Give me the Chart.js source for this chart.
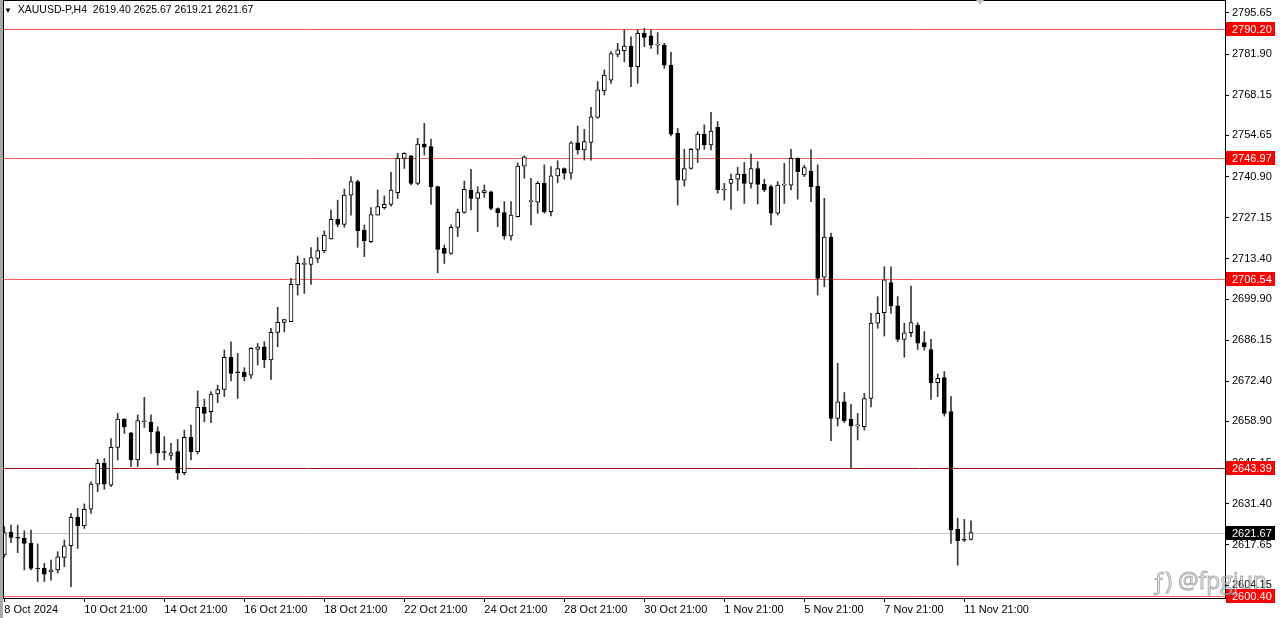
<!DOCTYPE html>
<html>
<head>
<meta charset="utf-8">
<script src="https://cdn.jsdelivr.net/npm/chart.js@4"></script>
<style>
    body { margin: 0; background: #fff; }
    #wrap { position: relative; width: 1280px; height: 618px; overflow: hidden; background: #fff; }
    #edge { position: absolute; left: 0; top: 0; width: 3px; height: 618px; background: #a8a8a8; }
    #title { position: absolute; left: 4px; top: 3px; font: 10.5px 'Liberation Sans', Arial, sans-serif; color: #000; white-space: pre; }
    #title span { font-size: 8px; }
    #shift { position: absolute; left: 976px; top: 0; width: 0; height: 0; border-left: 4px solid transparent; border-right: 4px solid transparent; border-top: 5px solid #c4c4c4; }
    #mark { position: absolute; left: 1152px; top: 564px; font: 23px 'Open Sans', sans-serif; color: rgba(235, 235, 235, 0.6); -webkit-text-stroke: 1px rgba(110, 110, 110, 0.55); white-space: pre; }
</style>
</head>
<body>
<div id="wrap">
    <canvas id="chart" width="1280" height="618"></canvas>
    <div id="edge"></div>
    <div id="title"><span>▼</span>  XAUUSD-P,H4  2619.40 2625.67 2619.21 2621.67</div>
    <div id="shift"></div>
    <div id="mark">ƒ) @fpgjun</div>
</div>
<script>
Chart.defaults.font.family = "'Liberation Sans', Arial, sans-serif"
Chart.defaults.font.size = 11
Chart.defaults.color = '#000'

// XAUUSD H4 candles, 8 Oct 21:00 -> 12 Nov 01:00
const opens = [
    2614.2, 2621.8, 2620.1, 2619.9, 2618.2, 2609.8, 2609.7, 2608.6, 2609.2, 2613.4,
    2617.3, 2626.8, 2623.9, 2629.5, 2637.9, 2644.9, 2637.6, 2650.2, 2659.7, 2655.1,
    2646.0, 2658.8, 2658.6, 2655.5, 2648.6, 2647.5, 2648.8, 2641.8, 2653.6, 2648.8,
    2663.6, 2662.2, 2668.1, 2669.6, 2680.4, 2675.3, 2675.4, 2674.4, 2683.0, 2683.9,
    2679.5, 2688.7, 2692.1, 2692.3, 2704.6, 2711.5, 2711.5, 2713.5, 2716.1, 2720.0,
    2726.6, 2724.9, 2734.7, 2739.2, 2723.0, 2719.1, 2728.0, 2730.5, 2731.6, 2735.5,
    2747.0, 2747.8, 2738.6, 2751.8, 2750.9, 2737.5, 2716.9, 2715.2, 2723.9, 2728.9,
    2736.4, 2733.6, 2735.5, 2735.8, 2730.2, 2728.8, 2721.0, 2727.5, 2744.4, 2732.5,
    2732.3, 2738.6, 2729.1, 2741.1, 2743.6, 2742.0, 2752.2, 2749.8, 2752.3, 2760.7,
    2769.6, 2773.2, 2781.8, 2783.0, 2784.6, 2777.7, 2788.8, 2788.0, 2784.9, 2784.9,
    2778.2, 2755.4, 2739.7, 2743.6, 2750.0, 2755.1, 2751.5, 2757.4, 2736.4, 2738.6,
    2740.0, 2741.7, 2738.6, 2743.6, 2738.3, 2737.5, 2728.6, 2738.0, 2738.0, 2747.0,
    2741.4, 2742.7, 2737.7, 2707.2, 2720.6, 2659.9, 2665.5, 2659.6, 2657.4, 2657.2,
    2666.6, 2691.8, 2695.3, 2705.4, 2697.6, 2686.4, 2688.6, 2691.2, 2685.3, 2683.0,
    2671.9, 2673.6, 2662.2, 2622.8, 2619.3, 2619.40
]
const highs = [
    2623.7, 2624.2, 2624.2, 2622.3, 2622.5, 2617.9, 2611.4, 2612.5, 2615.3, 2619.2,
    2628.1, 2629.8, 2631.3, 2638.7, 2646.2, 2646.5, 2653.2, 2661.6, 2659.9, 2655.3,
    2661.1, 2667.0, 2661.1, 2657.1, 2653.8, 2651.6, 2652.9, 2656.0, 2657.7, 2669.1,
    2666.4, 2668.9, 2671.1, 2682.8, 2685.6, 2681.7, 2676.9, 2683.6, 2685.0, 2685.6,
    2690.1, 2697.1, 2693.1, 2706.8, 2714.3, 2713.5, 2717.1, 2720.5, 2722.7, 2729.7,
    2733.0, 2736.7, 2740.9, 2739.7, 2724.7, 2730.5, 2736.4, 2734.4, 2742.3, 2748.7,
    2748.9, 2748.0, 2753.7, 2758.7, 2753.4, 2737.7, 2718.0, 2724.7, 2730.0, 2739.4,
    2743.3, 2737.5, 2738.1, 2736.0, 2730.4, 2732.5, 2732.5, 2745.5, 2747.8, 2740.3,
    2739.2, 2744.8, 2744.2, 2746.2, 2743.8, 2752.6, 2757.8, 2756.7, 2764.1, 2772.7,
    2776.6, 2782.7, 2785.5, 2790.0, 2787.7, 2790.0, 2790.5, 2790.0, 2789.1, 2785.5,
    2782.5, 2757.0, 2750.0, 2750.3, 2755.9, 2758.2, 2762.4, 2759.3, 2738.6, 2741.7,
    2744.0, 2745.6, 2748.4, 2745.9, 2740.0, 2738.0, 2739.2, 2745.3, 2750.0, 2747.2,
    2744.7, 2749.8, 2744.8, 2733.6, 2722.0, 2678.4, 2668.6, 2664.6, 2661.6, 2668.3,
    2695.1, 2700.7, 2710.7, 2710.7, 2700.7, 2691.8, 2704.2, 2692.0, 2689.0, 2686.4,
    2674.8, 2675.6, 2667.2, 2626.5, 2626.1, 2625.67
]
const lows = [
    2613.5, 2618.3, 2615.0, 2609.2, 2609.2, 2605.3, 2605.3, 2605.8, 2608.1, 2610.3,
    2603.6, 2616.4, 2623.1, 2628.1, 2635.4, 2636.2, 2637.1, 2646.0, 2654.9, 2643.8,
    2643.8, 2656.9, 2648.2, 2644.3, 2646.0, 2646.0, 2639.5, 2641.0, 2646.0, 2648.0,
    2658.8, 2658.5, 2665.2, 2667.2, 2672.5, 2666.6, 2672.5, 2673.3, 2677.8, 2676.9,
    2673.0, 2683.9, 2688.9, 2692.3, 2701.2, 2701.8, 2704.8, 2712.1, 2715.4, 2719.9,
    2724.1, 2723.9, 2728.0, 2717.2, 2714.1, 2718.8, 2728.0, 2730.0, 2731.0, 2733.6,
    2743.6, 2738.1, 2738.1, 2748.1, 2731.6, 2708.7, 2711.8, 2714.9, 2720.8, 2728.6,
    2729.7, 2722.4, 2733.9, 2729.7, 2724.1, 2719.9, 2719.6, 2727.3, 2740.3, 2724.7,
    2728.6, 2728.6, 2727.7, 2738.8, 2740.0, 2740.0, 2748.4, 2746.4, 2746.4, 2760.4,
    2768.2, 2772.1, 2781.0, 2779.3, 2771.0, 2772.1, 2784.4, 2783.8, 2781.9, 2777.1,
    2754.5, 2731.4, 2737.7, 2743.4, 2745.6, 2750.0, 2749.8, 2735.3, 2733.0, 2729.9,
    2736.2, 2731.9, 2737.0, 2731.7, 2735.8, 2724.7, 2728.0, 2731.9, 2736.4, 2733.3,
    2740.9, 2732.5, 2701.2, 2704.0, 2652.5, 2657.4, 2658.5, 2643.2, 2652.7, 2656.0,
    2663.8, 2690.1, 2687.5, 2695.1, 2685.6, 2680.4, 2687.3, 2683.0, 2682.8, 2666.3,
    2667.2, 2660.7, 2618.1, 2610.8, 2618.7, 2619.21
]
const closes = [
    2621.7, 2620.1, 2619.8, 2618.1, 2609.7, 2609.5, 2607.8, 2609.2, 2613.6, 2617.3,
    2626.8, 2623.9, 2629.5, 2637.9, 2644.9, 2637.9, 2650.2, 2659.7, 2657.1, 2646.0,
    2659.2, 2658.9, 2655.5, 2648.4, 2648.5, 2648.4, 2641.8, 2653.6, 2648.8, 2663.6,
    2661.6, 2668.1, 2669.6, 2680.4, 2675.0, 2675.2, 2673.9, 2683.4, 2683.9, 2679.5,
    2688.7, 2692.1, 2693.0, 2704.8, 2711.8, 2711.6, 2713.8, 2716.1, 2721.3, 2726.6,
    2724.9, 2734.7, 2739.2, 2722.8, 2719.4, 2728.2, 2730.8, 2731.6, 2736.4, 2747.0,
    2748.7, 2738.6, 2751.8, 2750.7, 2737.5, 2716.5, 2715.2, 2723.9, 2728.9, 2736.6,
    2733.6, 2735.5, 2736.2, 2730.2, 2728.8, 2721.0, 2728.0, 2744.4, 2747.5, 2732.6,
    2738.6, 2729.1, 2741.1, 2743.6, 2742.0, 2752.2, 2749.8, 2752.6, 2760.9, 2769.9,
    2774.9, 2782.1, 2783.3, 2784.6, 2777.7, 2788.8, 2787.5, 2784.9, 2785.0, 2778.2,
    2755.1, 2739.7, 2743.6, 2750.0, 2755.1, 2751.5, 2756.1, 2736.4, 2736.5, 2740.0,
    2741.7, 2738.6, 2743.6, 2738.3, 2736.4, 2728.6, 2738.0, 2738.1, 2747.0, 2742.5,
    2743.9, 2737.5, 2706.8, 2720.6, 2659.9, 2665.5, 2659.2, 2657.4, 2657.5, 2666.6,
    2691.8, 2695.1, 2706.3, 2697.6, 2686.4, 2688.6, 2692.0, 2685.1, 2683.9, 2671.9,
    2673.3, 2661.6, 2622.6, 2619.0, 2619.2, 2621.67
]

// one time label every 12 bars (2 days of H4)
const timeLabels = ['8 Oct 2024', '10 Oct 21:00', '14 Oct 21:00', '16 Oct 21:00', '18 Oct 21:00', '22 Oct 21:00',
    '24 Oct 21:00', '28 Oct 21:00', '30 Oct 21:00', '1 Nov 21:00', '5 Nov 21:00', '7 Nov 21:00', '11 Nov 21:00']
const barsPerLabel = 12

const priceTicks = [2795.65, 2781.90, 2768.15, 2754.65, 2740.90, 2727.15, 2713.40, 2699.90,
    2686.15, 2672.40, 2658.90, 2645.15, 2631.40, 2617.65, 2604.15]

const levels = [2790.20, 2746.97, 2706.54, 2643.39, 2600.40]
const bid = 2621.67


const levelLines = {
    id: 'levelLines',
    beforeDatasetsDraw(chart) {
        const { ctx, chartArea: a, scales: { y } } = chart
        ctx.save()
        ctx.lineWidth = 1

        const line = (price, color) => {
            const py = Math.round(y.getPixelForValue(price)) + 0.5
            ctx.strokeStyle = color
            ctx.beginPath()
            ctx.moveTo(a.left, py)
            ctx.lineTo(a.right, py)
            ctx.stroke()
        }

        line(bid, '#c8c8c8')
        levels.forEach(p => line(p, p === 2643.39 ? '#a81616' : '#ff5c5c'))
        ctx.restore()
    }
}

const axisBoxes = {
    id: 'axisBoxes',
    afterDraw(chart) {
        const { ctx, chartArea: a, scales: { y } } = chart
        ctx.save()

        // frame
        ctx.strokeStyle = '#000'
        ctx.lineWidth = 1
        ctx.strokeRect(a.left + 0.5, 0.5, a.right - a.left, a.bottom)

        ctx.font = "11px 'Liberation Sans', Arial, sans-serif"
        ctx.textBaseline = 'middle'

        const box = (price, bg) => {
            const py = Math.round(y.getPixelForValue(price))
            ctx.fillStyle = bg
            ctx.fillRect(y.left + 1, py - 7, 49, 14)
            ctx.fillStyle = '#fff'
            ctx.fillText(price.toFixed(2), y.left + 7, py + 1)
        }

        levels.forEach(p => box(p, '#ff0000'))
        box(bid, '#000')
        ctx.restore()
    }
}


const wicks = lows.map((low, i) => ({ x: i, y: [low, highs[i]] }))
const bodies = opens.map((open, i) => ({ x: i, y: [open, closes[i]] }))
const bodyColors = opens.map((open, i) => closes[i] >= open ? '#fff' : '#000')

new Chart('chart', {
    type: 'bar',
    data: {
        datasets: [
            {
                data: wicks,
                backgroundColor: '#3a3a3a',
                barThickness: 1,
                grouped: false,
                order: 2
            },
            {
                data: bodies,
                backgroundColor: bodyColors,
                borderColor: '#000',
                borderWidth: 1,
                borderSkipped: false,
                barThickness: 4,
                minBarLength: 1,
                grouped: false,
                order: 1
            }
        ]
    },
    options: {
        responsive: false,
        animation: false,
        events: [],
        layout: { padding: { left: 3, top: 0, right: 0, bottom: 0 } },
        plugins: {
            legend: { display: false },
            tooltip: { enabled: false }
        },
        scales: {
            x: {
                type: 'linear',
                position: 'bottom',
                min: -0.2,
                max: 183.1,
                offset: false,
                afterBuildTicks: s => { s.ticks = timeLabels.map((_, k) => ({ value: k * barsPerLabel })) },
                afterFit: s => { s.height = 20; s.paddingLeft = 0; s.paddingRight = 0 },
                grid: { drawOnChartArea: false, offset: false, tickLength: 4, color: '#000' },
                border: { color: '#000' },
                ticks: {
                    align: 'start',
                    padding: 1,
                    maxRotation: 0,
                    minRotation: 0,
                    autoSkip: false,
                    callback: v => timeLabels[v / barsPerLabel]
                }
            },
            y: {
                position: 'right',
                min: 2599.8,
                max: 2800,
                afterBuildTicks: s => { s.ticks = priceTicks.map(v => ({ value: v })) },
                afterFit: s => { s.width = 55; s.paddingTop = 0; s.paddingBottom = 0 },
                grid: { drawOnChartArea: false, tickLength: 4, color: '#000' },
                border: { color: '#000' },
                ticks: {
                    padding: 3,
                    autoSkip: false,
                    callback: v => v.toFixed(2)
                }
            }
        }
    },
    plugins: [levelLines, axisBoxes]
})
</script>
</body>
</html>
